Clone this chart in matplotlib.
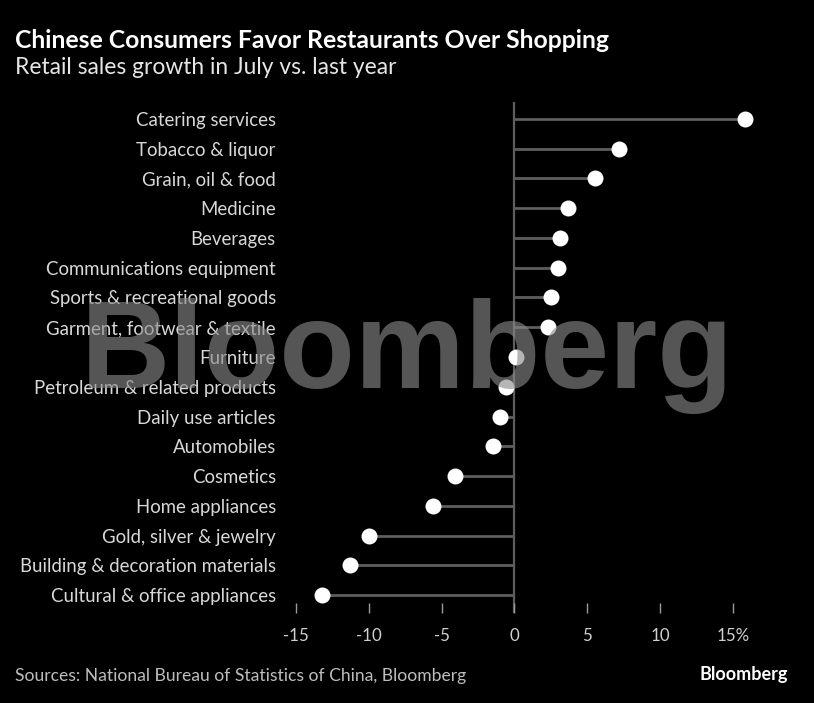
import matplotlib
matplotlib.use("Agg")
import matplotlib.pyplot as plt

categories = [
    "Catering services", "Tobacco & liquor", "Grain, oil & food", "Medicine",
    "Beverages", "Communications equipment", "Sports & recreational goods",
    "Garment, footwear & textile", "Furniture", "Petroleum & related products",
    "Daily use articles", "Automobiles", "Cosmetics", "Home appliances",
    "Gold, silver & jewelry", "Building & decoration materials",
    "Cultural & office appliances",
]
values = [15.8, 7.2, 5.5, 3.7, 3.1, 3.0, 2.5, 2.3, 0.1, -0.6, -1.0, -1.5,
          -4.1, -5.6, -10.0, -11.3, -13.2]
xticks = [-15, -10, -5, 0, 5, 10, 15]
xtick_labels = ["-15", "-10", "-5", "0", "5", "10", "15%"]

FONT = "Lato"
plt.rcParams["font.family"] = [FONT, "DejaVu Sans"]

fig = plt.figure(figsize=(8.14, 7.03), dpi=100, facecolor="black")
ax = fig.add_axes([0.3457, 0.128, 0.5904, 0.727])
ax.set_facecolor("black")

n = len(categories)
ypos = [n - 1 - i for i in range(n)]

ax.hlines(ypos, 0, values, color="#5e5e5e", lw=2, zorder=2)
ax.axvline(0, color="#5e5e5e", lw=1.6, zorder=1)
ax.plot(values, ypos, "o", color="white", ms=11.5, mec="none", zorder=3)

ax.set_xlim(-16, 17)
ax.set_ylim(-0.6, n - 1 + 0.57)
ax.set_xticks(xticks)
ax.set_xticklabels(xtick_labels)
ax.set_yticks(ypos)
ax.set_yticklabels(categories)
for s in ax.spines.values():
    s.set_visible(False)
ax.tick_params(axis="x", direction="in", length=7, width=1, color="#9a9a9a",
               labelcolor="#d0d0d0", labelsize=12.2, pad=11)
ax.tick_params(axis="y", length=0, labelcolor="#d8d8d8", labelsize=13.4, pad=4)

fig.text(0.018, 0.943, "Chinese Consumers Favor Restaurants Over Shopping",
         color="white", fontsize=17.8, fontweight="bold", va="center")
fig.text(0.018, 0.904, "Retail sales growth in July vs. last year",
         color="#e6e6e6", fontsize=16.4, va="center")
fig.text(0.018, 0.038, "Sources: National Bureau of Statistics of China, Bloomberg",
         color="#bdbdbd", fontsize=12.6, va="center")
fig.text(0.968, 0.040, "Bloomberg", color="white", fontsize=13,
         fontweight="bold", va="center", ha="right")

fig.text(0.5, 0.448, "Bloomberg", color="#8a8a8a", alpha=0.62,
         fontsize=89, fontweight="bold", ha="center", va="baseline",
         family=["Liberation Sans", "DejaVu Sans"], zorder=10)

fig.savefig("out.png", dpi=100, facecolor="black")
